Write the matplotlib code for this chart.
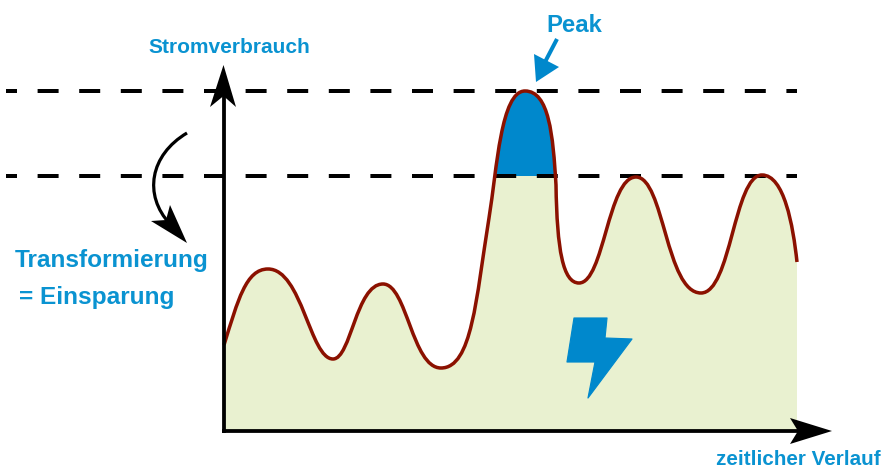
import matplotlib
matplotlib.use('Agg')
import matplotlib.pyplot as plt
from matplotlib.patches import PathPatch, Polygon, Rectangle
from matplotlib.path import Path

# everything, in pixels of the 883x468 image
# curve: knots (humps, dips, steep flanks) and the bezier handles between them
knot_x = [224, 268, 333, 383, 441, 489, 525, 556, 579, 636, 701, 762, 797]
knot_y = [345, 269, 359, 284, 368, 218, 91, 185, 283, 177, 293, 175, 262]
out_x = [238, 302, 351, 407, 472, 497, 549, 557, 604, 664, 731, 784]
out_y = [300, 269, 359, 284, 368, 168, 91, 250, 283, 177, 293, 175]
in_x = [246, 310, 356, 412, 476, 501, 553, 563, 608, 666, 734, 793]
in_y = [269, 359, 284, 368, 299, 91, 135, 283, 177, 293, 175, 225]
levels = [91, 175.5]
baseline = 431
axis_x = 223.5

bolt_x = [574, 607, 605, 632, 588, 595, 567]
bolt_y = [318, 318, 338, 339, 398, 362, 362]

blue = '#0A93D1'
peak_blue = '#0088CC'
line_red = '#8B1100'
fill_green = '#E9F1D0'
px = 0.72

plt.rcParams['font.family'] = ['Liberation Sans', 'DejaVu Sans']
plt.rcParams['lines.scale_dashes'] = False

fig = plt.figure(figsize=(8.83, 4.68), dpi=100)
ax = fig.add_axes([0, 0, 1, 1])
ax.set_xlim(0, 883)
ax.set_ylim(468, 0)
ax.axis('off')

verts = [(knot_x[0], knot_y[0])]
codes = [Path.MOVETO]
for i in range(len(out_x)):
    verts += [(out_x[i], out_y[i]), (in_x[i], in_y[i]), (knot_x[i + 1], knot_y[i + 1])]
    codes += [Path.CURVE4] * 3

area = Path(verts + [(knot_x[-1], baseline), (knot_x[0], baseline), (knot_x[0], knot_y[0])],
            codes + [Path.LINETO] * 3)
ax.add_patch(PathPatch(area, fc=fill_green, ec='none', zorder=1))

# blue part of the peak, above the lower level
peak = PathPatch(area, fc=peak_blue, ec='none', zorder=2)
ax.add_patch(peak)
peak.set_clip_path(Rectangle((485, levels[0] - 5), 80, levels[1] - levels[0] + 5, transform=ax.transData))

for y in levels:
    ax.plot([6, 797], [y, y], color='black', lw=4 * px, zorder=3,
            ls=(10 * px, (21 * px, 20.6 * px)), dash_capstyle='butt')

ax.add_patch(PathPatch(Path(verts, codes), fc='none', ec=line_red, lw=3.5 * px, zorder=4))

# axes with their arrow heads
ax.plot([axis_x, axis_x], [baseline + 2, 95], color='black', lw=3.8 * px, zorder=5, solid_capstyle='butt')
ax.plot([axis_x - 2, 800], [baseline, baseline], color='black', lw=3.8 * px, zorder=5, solid_capstyle='butt')
ax.add_patch(Polygon([(223.5, 65), (236, 107), (223.5, 96), (210, 107)], fc='black', ec='none', zorder=6))
ax.add_patch(Polygon([(832, 431), (790, 444), (798, 431), (790, 418)], fc='black', ec='none', zorder=6))

# curved arrow
bend = Path([(187, 133), (150, 155), (143, 195), (170, 224)],
            [Path.MOVETO, Path.CURVE4, Path.CURVE4, Path.CURVE4])
ax.add_patch(PathPatch(bend, fc='none', ec='black', lw=3.2 * px, zorder=5))
ax.add_patch(Polygon([(187, 243), (151, 221), (166, 220), (170, 205)], fc='black', ec='none', zorder=6))

# peak arrow
ax.plot([557, 545], [39, 62], color=peak_blue, lw=4 * px, zorder=5, solid_capstyle='butt')
ax.add_patch(Polygon([(536, 82), (534, 54), (559, 67)], fc=peak_blue, ec='none', zorder=6))

ax.add_patch(Polygon(list(zip(bolt_x, bolt_y)), fc=peak_blue, ec=peak_blue, lw=1.2 * px,
                     joinstyle='round', zorder=5))

txt = dict(color=blue, fontweight='bold', va='baseline', ha='left', zorder=7)
ax.text(546, 32, 'Peak', fontsize=17.2, **txt)
ax.text(148, 53, 'Stromverbrauch', fontsize=15, **txt)
ax.text(15, 267, 'Transformierung', fontsize=17.55, **txt)
ax.text(19, 304, '= Einsparung', fontsize=17.55, **txt)
ax.text(716, 465, 'zeitlicher Verlauf', fontsize=14.9, **txt)

fig.savefig('out.png', dpi=100)
